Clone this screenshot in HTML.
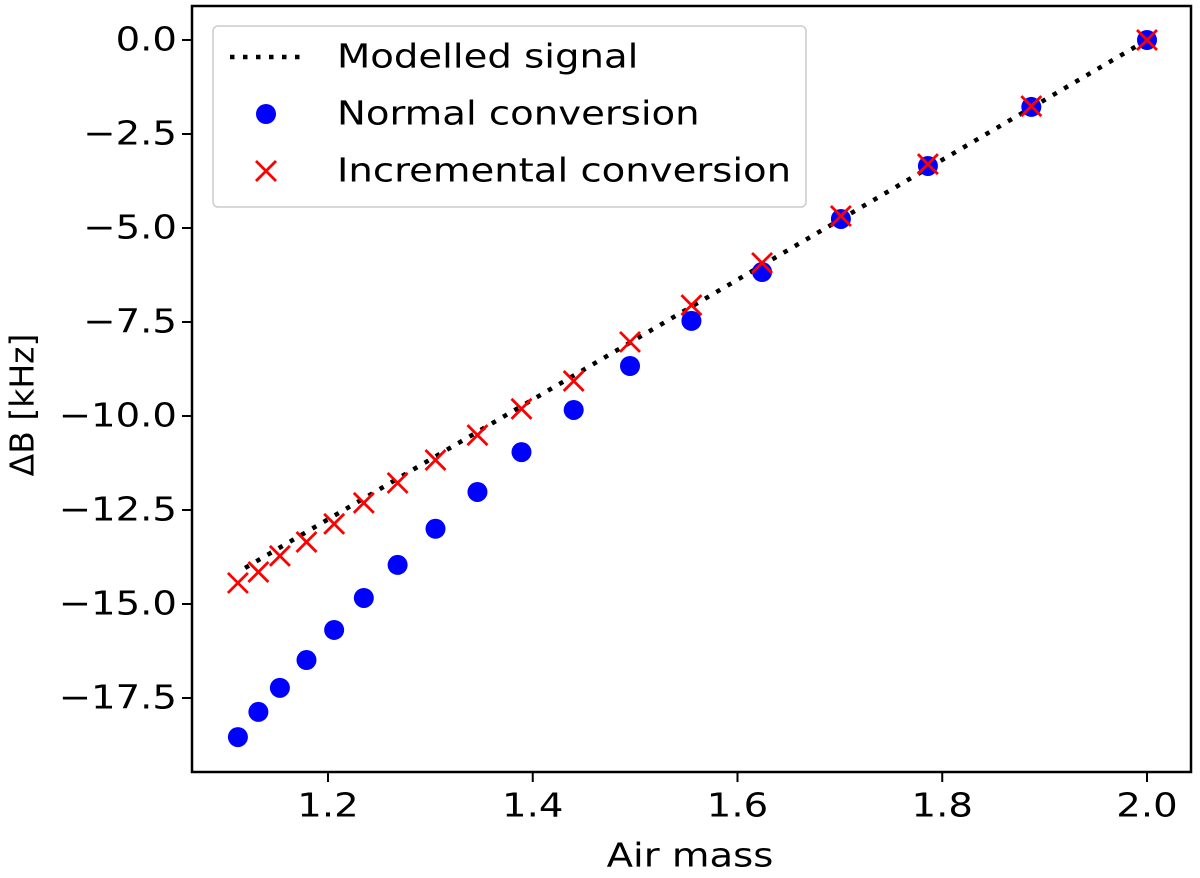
<!DOCTYPE html>
<html><head><meta charset="utf-8"><style>
body{margin:0;background:#fff;}
svg{display:block;font-family:"DejaVu Sans","Liberation Sans",sans-serif;}
</style></head><body>
<svg id="chart" width="1200" height="878" viewBox="0 0 1200 878">
<g id="axes"></g>
<g id="marks"></g>
<g id="legend"></g>
</svg>
<script>
const airMass = [1.112,1.132,1.153,1.179,1.206,1.235,1.268,1.305,1.346,1.389,1.440,1.495,1.555,1.624,1.701,1.786,1.887,2.0];
const normalVals = [-18.54,-17.87,-17.23,-16.49,-15.69,-14.84,-13.96,-13.0,-12.02,-10.96,-9.84,-8.67,-7.47,-6.17,-4.76,-3.35,-1.78,0];
const incrementalVals = [-14.44,-14.15,-13.72,-13.35,-12.87,-12.31,-11.78,-11.17,-10.51,-9.81,-9.07,-8.03,-7.05,-5.93,-4.68,-3.30,-1.76,0];
const modelX = [1.119,2.0];
const modelY = [-14.04,0];
const xTicks = [1.2,1.4,1.6,1.8,2.0];
const xTickLabels = ["1.2","1.4","1.6","1.8","2.0"];
const yTicks = [0,-2.5,-5,-7.5,-10,-12.5,-15,-17.5];
const yTickLabels = ["0.0","\u22122.5","\u22125.0","\u22127.5","\u221210.0","\u221212.5","\u221215.0","\u221217.5"];

const NS="http://www.w3.org/2000/svg";
const L=192,R=1191,T=6,B=772;
const SX=1.17;
function sx(v){return 328+(v-1.2)*1023.75;}
function sy(v){return 40-v*37.6;}
function mk(tag,attrs,parent,text){const e=document.createElementNS(NS,tag);for(const k in attrs)e.setAttribute(k,attrs[k]);if(text!==undefined)e.textContent=text;parent.appendChild(e);return e;}
function txt(x,y,s,anchor,parent,extra){
  return mk('text',Object.assign({x:0,y:0,'font-size':33,'text-anchor':anchor,'dominant-baseline':'central',transform:`translate(${x},${y}) scale(${SX},1)`},extra||{}),parent,s);
}
const axes=document.getElementById('axes'),marks=document.getElementById('marks'),legend=document.getElementById('legend');

let frame=mk('rect',{x:L,y:T,width:R-L,height:B-T,fill:'none',stroke:'#000','stroke-width':2.5},axes);



xTicks.forEach((v,i)=>{
  let t=mk('line',{x1:sx(v),x2:sx(v),y1:B,y2:B+10,stroke:'#000','stroke-width':2},axes);
  
  
  let l=txt(sx(v),806,xTickLabels[i],'middle',axes);
  
  
});
yTicks.forEach((v,i)=>{
  let t=mk('line',{x1:L-10,x2:L,y1:sy(v),y2:sy(v),stroke:'#000','stroke-width':2},axes);
  
  
  let l=txt(177,sy(v),yTickLabels[i],'end',axes);
  
  
});
let xt=txt(690,856,'Air mass','middle',axes);


let yt=mk('text',{x:22,y:405,'font-size':33,'text-anchor':'middle','dominant-baseline':'central',transform:'rotate(-90 22 405)'},axes,'\u0394B [kHz]');



let pts=modelX.map((x,i)=>sx(x)+','+sy(modelY[i])).join(' ');
let ml=mk('polyline',{points:pts,fill:'none',stroke:'#000','stroke-width':4.5,'stroke-dasharray':'4.5 8.5'},marks);



airMass.forEach((x,i)=>{
  let c=mk('circle',{cx:sx(x),cy:sy(normalVals[i]),r:10,fill:'#0000ff'},marks);
  
  
});
function cross(cx,cy,s,parent){
  return mk('path',{d:`M${cx-s},${cy-s}L${cx+s},${cy+s}M${cx-s},${cy+s}L${cx+s},${cy-s}`,stroke:'#ff0000','stroke-width':2.8,fill:'none'},parent);
}
airMass.forEach((x,i)=>{
  let p=cross(sx(x),sy(incrementalVals[i]),10,marks);
  
  
});

let box=mk('rect',{x:213,y:26,width:593,height:181,rx:5,fill:'#fff','fill-opacity':0.8,stroke:'#ccc','stroke-width':1.5},legend);


let e1=mk('line',{x1:230,x2:305,y1:57,y2:57,stroke:'#000','stroke-width':4.5,'stroke-dasharray':'4.5 8.5'},legend);


let e2=mk('circle',{cx:266,cy:114,r:10,fill:'#0000ff'},legend);


let e3=cross(266,171,10,legend);


[['Modelled signal',57],['Normal conversion',114],['Incremental conversion',171]].forEach(([s,y])=>{
  let t=txt(337,y,s,'start',legend);
  
  
});
</script>
</body></html>
